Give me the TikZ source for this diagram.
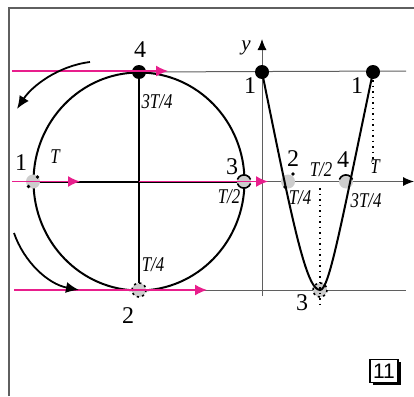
\documentclass[tikz,border=0pt]{standalone}
\usepackage{fontspec}
\newfontfamily\boxfont{Liberation Sans}
\newfontfamily\labfont{Liberation Serif}
\usetikzlibrary{arrows.meta,shadows}
\definecolor{pinkline}{RGB}{232,30,140}
\definecolor{axisgray}{RGB}{95,95,95}
\definecolor{dotgray}{RGB}{205,205,205}
\newcommand{\cnd}[1]{\scalebox{0.8}[1]{#1}}
\begin{document}
\begin{tikzpicture}[x=1pt,y=-1pt,
  num/.style={inner sep=0pt, font=\labfont\fontsize{24}{24}\selectfont},
  lab/.style={inner sep=0pt, font=\labfont\fontsize{21}{21}\selectfont\itshape},
  pinkarrow/.style={pinkline, line width=1.4pt, -{Latex[length=12pt,width=11pt]}},
  thinline/.style={axisgray, line width=1pt},
  axisarrow/.style={axisgray, line width=1pt, -{Latex[length=11pt,width=9pt,black]}},
  thickline/.style={black, line width=2pt},
  curvearrow/.style={black, line width=1.8pt, -{Latex[length=13pt,width=11pt]}},
  gdot/.style={circle, fill=dotgray, minimum size=14pt, inner sep=0pt},
  bdot/.style={circle, fill=black, minimum size=14pt, inner sep=0pt},
  dotline/.style={black, line width=1.5pt, dash pattern=on 1.5pt off 4pt},
  rim/.style={black, line width=1.6pt}
]
\useasboundingbox (0,0) rectangle (414,396);
% frame
\coordinate (fb) at (9,396);
\coordinate (fc) at (9,8);
\coordinate (fr) at (414,8);
\draw[axisgray, line width=1.3pt] (fb) -- (fc) -- (fr);

% key points
\coordinate (O) at (139,181.5);
\coordinate (c1) at (33,181.5);
\coordinate (c2) at (139,290);
\coordinate (c3) at (244,181.5);
\coordinate (c4) at (139,72);
\coordinate (g1) at (262,72);
\coordinate (g2) at (287,181.5);
\coordinate (g3) at (320,290);
\coordinate (g4) at (346,181.5);
\coordinate (g5) at (373,72);

% horizontal guide lines and axes
\coordinate (topR) at (406,71);
\coordinate (botR) at (406,290);
\coordinate (xs) at (262,181.5);
\coordinate (xe) at (414,181.5);
\coordinate (ys) at (262,296);
\coordinate (ye) at (262,39);
\draw[thinline] (c4) -- (topR);
\draw[thinline] (c2) -- (botR);
\draw[axisarrow] (xs) -- (xe);
\draw[axisarrow] (ys) -- (ye);

% circle with cross
\draw[thickline] (O) ellipse [x radius=105.5, y radius=109];
\draw[thickline] (c4) -- (c2);
\draw[thickline] (c1) -- (c3);

% gray dots
\node[gdot] (d1) at (c1) {};
\node[gdot] (d2) at (c2) {};
\node[gdot] (d3) at (c3) {};
\node[gdot] (e2) at (288,181.5) {};
\node[gdot] (e3) at (g3) {};
\node[gdot] (e4) at (g4) {};

% graph curve
\draw[thickline] (g1) .. controls (292,220) and (306,290) .. (g3)
                      .. controls (329,290) and (340,230) .. (g5);

% dotted verticals
\coordinate (v1a) at (320,188);
\coordinate (v1b) at (320,306);
\coordinate (v2a) at (373,80);
\coordinate (v2b) at (373,163);
\draw[dotline] (v1a) -- (v1b);
\draw[dotline] (v2a) -- (v2b);

% dot rims
\fill (d1) ++(4.5,-4.5) circle (1.8);
\fill (d1) ++(-4.5,5) circle (1.8);
\draw[rim, dash pattern=on 2.2pt off 3.3pt] (d2) circle (7);
\draw[rim] (d3) ++(-6.6,-2) arc (200:340:7);
\draw[rim] (d3) ++(-6.6,2) arc (160:20:7);
\fill (e2) ++(5,-7.5) circle (1.8);
\fill (e2) ++(-3,5.5) circle (1.8);
\draw[rim] (e4) ++(-6.6,-2) arc (200:340:7);
\draw[rim, dash pattern=on 2.2pt off 3.3pt] (e3) circle (7);

% black dots
\node[bdot] (b4) at (c4) {};
\node[bdot] (h1) at (g1) {};
\node[bdot] (h5) at (g5) {};

% pink arrows
\coordinate (pt1) at (12,71);
\coordinate (pt2) at (168,71);
\coordinate (pm1) at (12,181.5);
\coordinate (pm2) at (80,181.5);
\coordinate (pm3) at (268,181.5);
\coordinate (pb1) at (14,290);
\coordinate (pb2) at (207,290);
\draw[pinkarrow] (pt1) -- (pt2);
\draw[pinkarrow] (pm1) -- (pm2);
\draw[pinkarrow] (O) -- (pm3);
\draw[pinkarrow] (pb1) -- (pb2);

% curved arrows
\coordinate (a1s) at (90,62);
\coordinate (a1e) at (17,109);
\coordinate (a2s) at (14,233);
\coordinate (a2e) at (79,290);
\draw[curvearrow] (a1s) .. controls (58,66) and (32,86) .. (a1e);
\draw[curvearrow] (a2s) .. controls (24,262) and (48,284) .. (a2e);

% labels
\node[num] (t4) at (140,50) {4};
\node[lab] (t34) at (157,102) {\cnd{3T/4}};
\node[num] (t1) at (21,163) {1};
\node[lab] (tT) at (55,157) {\cnd{T}};
\node[num] (t3) at (232,167) {3};
\node[lab] (tT2) at (229,197) {\cnd{T/2}};
\node[lab] (tT4) at (153,265) {\cnd{T/4}};
\node[num] (t2) at (128,316) {2};
\node[lab] (ty) at (246,48) {y};
\node[num] (s1) at (250,86) {1};
\node[num] (s1b) at (357,86) {1};
\node[num] (s2) at (293,159) {2};
\node[lab] (sT2) at (321,170) {\cnd{T/2}};
\node[num] (s4) at (343,160) {4};
\node[lab] (sT) at (375,167) {\cnd{T}};
\node[lab] (sT4) at (300,198) {\cnd{T/4}};
\node[lab] (s34) at (366,201) {\cnd{3T/4}};
\node[num] (s3) at (302,303) {3};

% boxed number
\node[draw, line width=1.2pt, fill=white, minimum width=28pt, minimum height=23pt,
      inner sep=0pt, font=\boxfont\fontsize{21}{21}\selectfont,
      drop shadow={shadow xshift=2.5pt, shadow yshift=-2.5pt, opacity=1, fill=black}]
      (box) at (384,371) {11};
\end{tikzpicture}
\end{document}
